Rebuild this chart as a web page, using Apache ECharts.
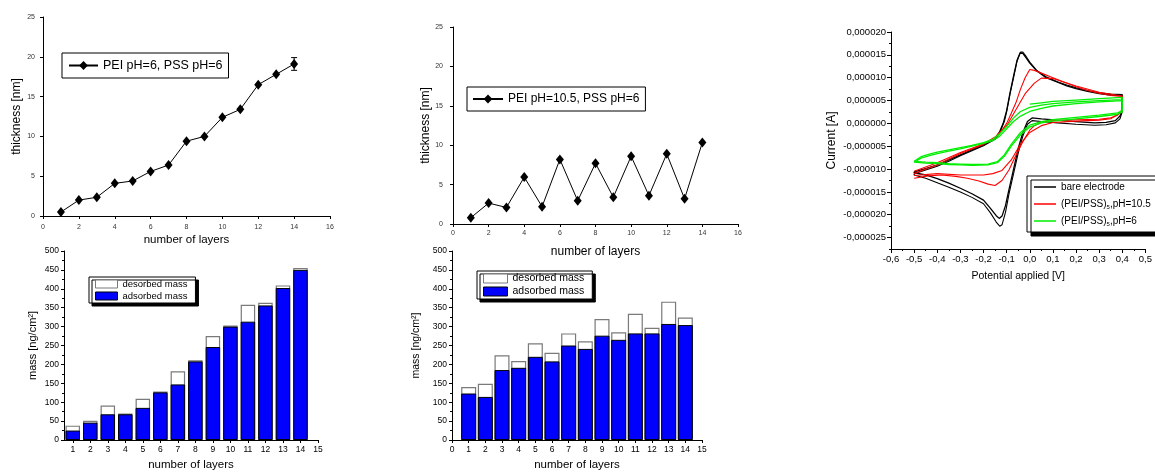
<!DOCTYPE html>
<html><head><meta charset="utf-8">
<script src="https://cdn.jsdelivr.net/npm/echarts@6/dist/echarts.min.js"></script>
<style>html,body{margin:0;padding:0;background:#fff}#c{width:1155px;height:472px}</style>
</head><body><div id="c"></div>
<script>
// ---- Panel 1 / 2: film thickness vs number of layers ----
const layers = [1,2,3,4,5,6,7,8,9,10,11,12,13,14];
const thicknessPH6 = [0.5,2.0,2.35,4.1,4.4,5.6,6.4,9.4,10.0,12.4,13.4,16.5,17.8,19.1];
const thicknessPH6Err = [0,0,0,0,0,0,0,0,0,0,0,0,0,0.8];
const thicknessPH105 = [0.8,2.65,2.1,5.95,2.2,8.2,2.95,7.7,3.4,8.6,3.6,8.9,3.2,10.35];
const thicknessTicksX = [0,16,2];
const thicknessTicksY = [0,25,5];

// ---- Panel 3: cyclic voltammograms, [potential V, current uA] ----
const bareCycle1 = [[-0.5,-10.6],[-0.45,-9.9],[-0.4,-9.1],[-0.35,-8.0],[-0.3,-6.9],[-0.25,-5.8],[-0.2,-4.7],[-0.15,-3.3],[-0.13,-1.8],[-0.115,0.0],[-0.1,2.8],[-0.085,6.8],[-0.07,10.4],[-0.055,13.8],[-0.042,15.4],[-0.03,15.3],[-0.015,14.3],[0.0,13.2],[0.03,11.5],[0.07,10.0],[0.12,9.0],[0.16,8.2],[0.2,7.6],[0.25,7.0],[0.3,6.5],[0.35,6.2],[0.4,6.1],
  [0.4,3.0],[0.39,1.6],[0.37,0.6],[0.33,0.2],[0.28,0.1],[0.2,0.4],[0.12,0.7],[0.05,1.0],[0.01,1.2],[-0.01,0.4],[-0.03,-2.0],[-0.05,-5.5],[-0.07,-10.0],[-0.09,-14.5],[-0.105,-18.0],[-0.12,-20.3],[-0.132,-20.8],[-0.145,-20.2],[-0.17,-18.6],[-0.2,-16.8],[-0.25,-15.4],[-0.3,-14.2],[-0.35,-13.1],[-0.4,-12.1],[-0.45,-11.3],[-0.5,-10.8],[-0.5,-10.6]];
const bareCycle2 = [[-0.5,-11.0],[-0.45,-10.2],[-0.4,-9.4],[-0.35,-8.3],[-0.3,-7.1],[-0.25,-6.0],[-0.2,-4.9],[-0.15,-3.5],[-0.13,-2.1],[-0.11,0.4],[-0.1,2.5],[-0.085,6.5],[-0.07,10.0],[-0.055,13.6],[-0.04,15.6],[-0.03,15.6],[-0.015,14.6],[0.0,13.4],[0.03,11.6],[0.07,10.2],[0.12,9.1],[0.16,8.4],[0.2,7.8],[0.25,7.2],[0.3,6.7],[0.35,6.4],[0.4,6.3],
  [0.4,2.6],[0.39,1.0],[0.37,0.1],[0.33,-0.3],[0.28,-0.4],[0.2,-0.2],[0.12,0.1],[0.05,0.4],[0.01,0.6],[-0.01,-0.2],[-0.03,-2.8],[-0.05,-6.5],[-0.07,-11.0],[-0.09,-15.5],[-0.105,-19.5],[-0.12,-22.2],[-0.13,-22.5],[-0.145,-21.6],[-0.17,-19.6],[-0.2,-17.6],[-0.25,-16.2],[-0.3,-15.0],[-0.35,-14.0],[-0.4,-13.0],[-0.45,-12.0],[-0.5,-11.3],[-0.5,-11.0]];
const ph105Cycle1 = [[-0.5,-11.0],[-0.45,-10.0],[-0.4,-9.1],[-0.35,-7.8],[-0.3,-6.6],[-0.25,-5.6],[-0.2,-4.6],[-0.15,-3.2],[-0.12,-1.5],[-0.1,0.0],[-0.08,2.2],[-0.06,4.5],[-0.04,7.5],[-0.02,10.0],[0.0,11.8],[0.02,11.6],[0.05,11.0],[0.1,10.0],[0.15,9.0],[0.2,8.0],[0.25,7.2],[0.3,6.6],[0.35,6.1],[0.4,5.9],
  [0.4,3.0],[0.38,1.8],[0.35,1.2],[0.3,0.9],[0.2,0.8],[0.1,0.6],[0.05,0.3],[0.02,-0.5],[0.0,-1.5],[-0.03,-4.0],[-0.06,-7.0],[-0.09,-10.2],[-0.12,-12.5],[-0.15,-13.6],[-0.18,-13.3],[-0.22,-12.6],[-0.27,-12.0],[-0.32,-11.6],[-0.38,-11.3],[-0.44,-11.5],[-0.5,-12.0]];
const ph105Cycle2 = [[-0.5,-10.5],[-0.4,-8.6],[-0.3,-6.4],[-0.2,-4.5],[-0.15,-3.0],[-0.1,-0.5],[-0.06,3.0],[-0.02,6.5],[0.02,8.8],[0.05,9.9],[0.1,9.8],[0.15,9.0],[0.2,8.2],[0.3,6.8],[0.4,6.0],
  [0.4,2.6],[0.35,1.0],[0.3,0.7],[0.2,0.5],[0.1,0.2],[0.05,-0.5],[0.0,-2.0],[-0.04,-4.5],[-0.08,-8.0],[-0.12,-10.3],[-0.16,-11.0],[-0.2,-11.3],[-0.3,-11.3],[-0.4,-11.0],[-0.5,-11.4]];
const ph6Cycle1 = [[0.0,4.2],[0.05,4.5],[0.1,4.8],[0.2,5.1],[0.3,5.4],[0.4,5.7],[0.4,2.8],[0.38,2.3],[0.3,1.8],[0.2,1.3],[0.1,0.8],[0.05,0.4],[0.0,-0.4],[-0.04,-2.0],[-0.08,-4.6],[-0.11,-6.9],[-0.14,-8.4],[-0.18,-8.9],[-0.25,-9.0],[-0.3,-8.9],[-0.35,-8.8],[-0.4,-8.6],[-0.45,-8.5],[-0.5,-8.3],
  [-0.5,-8.0],[-0.47,-7.3],[-0.43,-6.7],[-0.4,-6.3],[-0.35,-5.8],[-0.3,-5.3],[-0.25,-4.8],[-0.2,-4.2],[-0.16,-3.5],[-0.13,-2.3],[-0.1,-0.7],[-0.07,1.2],[-0.04,2.6],[0.0,3.5],[0.05,4.0],[0.1,4.3],[0.2,4.7],[0.3,5.0],[0.4,5.2]];
const ph6Cycle2 = [[0.4,5.2],[0.4,2.5],[0.38,2.0],[0.3,1.5],[0.2,1.0],[0.1,0.5],[0.05,0.1],[0.0,-0.8],[-0.04,-2.5],[-0.08,-5.0],[-0.11,-7.2],[-0.14,-8.6],[-0.18,-9.1],[-0.25,-9.2],[-0.3,-9.1],[-0.35,-9.0],[-0.4,-8.8],[-0.45,-8.7],[-0.5,-8.5],
  [-0.5,-8.2],[-0.47,-7.6],[-0.43,-7.0],[-0.4,-6.6],[-0.35,-6.1],[-0.3,-5.6],[-0.25,-5.0],[-0.2,-4.4],[-0.16,-3.8],[-0.13,-2.8],[-0.1,-1.2],[-0.07,0.4],[-0.04,1.6],[0.0,2.6],[0.05,3.3],[0.1,3.8],[0.2,4.3],[0.3,4.7],[0.4,5.0]];
const cvCurrentLabels_uA = [-25,-20,-15,-10,-5,0,5,10,15,20];
const cvCurrentMinor_uA = [-27.5,-22.5,-17.5,-12.5,-7.5,-2.5,2.5,7.5,12.5,17.5];

// ---- Panel 4 / 5: mass per layer (ng/cm2) ----
const massLayers = [1,2,3,4,5,6,7,8,9,10,11,12,13,14];
const adsorbedPH6 = [25,46,68,68,85,126,147,208,246,300,313,356,402,450];
const desorbedPH6 = [13,5,23,2,24,2,35,3,29,3,45,7,7,5];
const adsorbedPH105 = [123,114,185,191,220,208,250,241,276,265,282,282,307,304];
const desorbedPH105 = [17,35,39,18,36,23,32,20,44,20,52,15,59,20];
const massTickLabelsLeft = [1,2,3,4,5,6,7,8,9,10,11,12,13,14,15];

const FONT = '"Liberation Sans", Arial, sans-serif';
const pair = (xs, ys) => xs.map((x, i) => [x, ys[i]]);
// top of each bar = adsorbed + desorbed (white part drawn behind the blue part)
const topOf = (a, d) => a.map((v, i) => v + d[i]);
const axLine = {onZero: false, lineStyle: {color: '#000', width: 1}};
const tick = (len, extra) => Object.assign({length: len, lineStyle: {color: '#000', width: 1}}, extra || {});

const chart = echarts.init(document.getElementById('c'));

const option = {
  animation: false,
  backgroundColor: '#fff',
  textStyle: {fontFamily: FONT},
  grid: [
    {left: 43, top: 17, width: 287, height: 199},
    {left: 453, top: 27, width: 285, height: 197},
    {left: 891, top: 32, width: 257, height: 217},
    {left: 64, top: 251, width: 254, height: 191},
    {left: 452, top: 251, width: 250, height: 191}
  ],
  xAxis: [
    {gridIndex: 0, type: 'value', min: thicknessTicksX[0], max: thicknessTicksX[1], interval: thicknessTicksX[2],
     axisLine: axLine, axisTick: tick(3), splitLine: {show: false},
     axisLabel: {fontSize: 7, color: '#333', margin: 8, fontFamily: FONT},
     name: 'number of layers', nameLocation: 'middle', nameGap: 18,
     nameTextStyle: {fontSize: 11.5, color: '#000', fontFamily: FONT}},
    {gridIndex: 1, type: 'value', min: thicknessTicksX[0], max: thicknessTicksX[1], interval: thicknessTicksX[2],
     axisLine: axLine, axisTick: tick(3), splitLine: {show: false},
     axisLabel: {fontSize: 7, color: '#333', margin: 6, fontFamily: FONT},
     name: 'number of layers', nameLocation: 'middle', nameGap: 22,
     nameTextStyle: {fontSize: 12, color: '#000', fontFamily: FONT}},
    {gridIndex: 2, type: 'value', min: -0.6, max: 0.5, interval: 0.1,
     axisLine: axLine, axisTick: tick(4), splitLine: {show: false},
     minorTick: {show: true, splitNumber: 2, length: 2, lineStyle: {color: '#000'}},
     axisLabel: {fontSize: 9.5, color: '#000', margin: 5, fontFamily: FONT,
       formatter: v => v.toFixed(1).replace('.', ',')},
     name: 'Potential applied [V]', nameLocation: 'middle', nameGap: 22,
     nameTextStyle: {fontSize: 10.5, color: '#000', fontFamily: FONT}},
    {gridIndex: 3, type: 'value', min: 0.5, max: 15,
     axisLine: axLine, axisTick: tick(3, {customValues: massTickLabelsLeft}), splitLine: {show: false},
     axisLabel: {fontSize: 8.5, color: '#000', margin: 5, fontFamily: FONT, customValues: massTickLabelsLeft},
     name: 'number of layers', nameLocation: 'middle', nameGap: 19,
     nameTextStyle: {fontSize: 11.5, color: '#000', fontFamily: FONT}},
    {gridIndex: 4, type: 'value', min: 0, max: 15, interval: 1,
     axisLine: axLine, axisTick: tick(3), splitLine: {show: false},
     axisLabel: {fontSize: 8.5, color: '#000', margin: 5, fontFamily: FONT},
     name: 'number of layers', nameLocation: 'middle', nameGap: 19,
     nameTextStyle: {fontSize: 11.5, color: '#000', fontFamily: FONT}}
  ],
  yAxis: [
    {gridIndex: 0, type: 'value', min: thicknessTicksY[0], max: thicknessTicksY[1], interval: thicknessTicksY[2],
     axisLine: Object.assign({show: true}, axLine), axisTick: tick(3, {show: true}), splitLine: {show: false},
     axisLabel: {fontSize: 7, color: '#333', margin: 8, fontFamily: FONT},
     name: 'thickness [nm]', nameLocation: 'middle', nameGap: 20,
     nameTextStyle: {fontSize: 12, color: '#000', fontFamily: FONT}},
    {gridIndex: 1, type: 'value', min: thicknessTicksY[0], max: thicknessTicksY[1], interval: thicknessTicksY[2],
     axisLine: Object.assign({show: true}, axLine), axisTick: tick(3, {show: true}), splitLine: {show: false},
     axisLabel: {fontSize: 7, color: '#333', margin: 10, fontFamily: FONT},
     name: 'thickness [nm]', nameLocation: 'middle', nameGap: 21,
     nameTextStyle: {fontSize: 12, color: '#000', fontFamily: FONT}},
    {gridIndex: 2, type: 'value', min: -27.5, max: 20,
     axisLine: Object.assign({show: true}, axLine), axisTick: tick(4, {show: true, customValues: cvCurrentLabels_uA}), splitLine: {show: false},
     axisLabel: {fontSize: 9.5, color: '#000', margin: 5, fontFamily: FONT, customValues: cvCurrentLabels_uA,
       formatter: v => (v * 1e-6).toFixed(6).replace('.', ',')},
     name: 'Current [A]', nameLocation: 'middle', nameGap: 53,
     nameTextStyle: {fontSize: 12, color: '#000', fontFamily: FONT}},
    {gridIndex: 3, type: 'value', min: 0, max: 500, interval: 50,
     axisLine: Object.assign({show: true}, axLine), axisTick: tick(3, {show: true}), splitLine: {show: false},
     minorTick: {show: true, splitNumber: 2, length: 2, lineStyle: {color: '#000'}},
     axisLabel: {fontSize: 8.5, color: '#000', margin: 5, fontFamily: FONT},
     name: 'mass [ng/cm²]', nameLocation: 'middle', nameGap: 26,
     nameTextStyle: {fontSize: 11, color: '#000', fontFamily: FONT}},
    {gridIndex: 4, type: 'value', min: 0, max: 500, interval: 50,
     axisLine: Object.assign({show: true}, axLine), axisTick: tick(3, {show: true}), splitLine: {show: false},
     minorTick: {show: true, splitNumber: 2, length: 2, lineStyle: {color: '#000'}},
     axisLabel: {fontSize: 8.5, color: '#000', margin: 5, fontFamily: FONT},
     name: 'mass [ng/cm²]', nameLocation: 'middle', nameGap: 30,
     nameTextStyle: {fontSize: 10.5, color: '#000', fontFamily: FONT}},
    // minor ticks for the CV current axis
    {gridIndex: 2, type: 'value', min: -27.5, max: 20, position: 'left',
     axisLine: {show: false, onZero: false}, splitLine: {show: false}, axisLabel: {show: false},
     axisTick: tick(2, {show: true, customValues: cvCurrentMinor_uA})}
  ],
  legend: [
    {data: ['PEI pH=6, PSS pH=6'], left: 62, top: 53, orient: 'horizontal',
     padding: [6, 6, 6, 6], itemWidth: 29, itemHeight: 11, itemGap: 0,
     borderColor: '#000', borderWidth: 1, backgroundColor: '#fff', selectedMode: false,
     textStyle: {fontSize: 12.5, color: '#000', fontFamily: FONT}},
    {data: ['PEI pH=10.5, PSS pH=6'], left: 467, top: 87, orient: 'horizontal',
     padding: [6, 6, 6, 5], itemWidth: 30, itemHeight: 11, itemGap: 0,
     borderColor: '#000', borderWidth: 1, backgroundColor: '#fff', selectedMode: false,
     textStyle: {fontSize: 12, color: '#000', fontFamily: FONT}},
    {data: ['bare electrode', '(PEI/PSS)5,pH=10.5', '(PEI/PSS)5,pH=6'], left: 1027, top: 176, orient: 'vertical',
     padding: [5, 8, 5, 7], itemWidth: 22, itemHeight: 1.5, itemGap: 5, icon: 'rect',
     borderColor: '#000', borderWidth: 1, backgroundColor: '#fff', selectedMode: false,
     shadowColor: '#000', shadowBlur: 0, shadowOffsetX: 4, shadowOffsetY: 4,
     itemStyle: {borderWidth: 0},
     formatter: name => name.replace(')5,', '){sub|5},'),
     textStyle: {fontSize: 10, color: '#000', fontFamily: FONT, lineHeight: 12,
       rich: {sub: {fontSize: 6, verticalAlign: 'bottom', lineHeight: 12, fontFamily: FONT, color: '#000'}}}},
    {data: ['desorbed mass', 'adsorbed mass'], left: 89, top: 277, orient: 'vertical',
     padding: [2, 8, 2, 6], itemWidth: 22, itemHeight: 8, itemGap: 2, icon: 'rect',
     borderColor: '#000', borderWidth: 1, backgroundColor: '#fff', selectedMode: false,
     shadowColor: '#000', shadowBlur: 0, shadowOffsetX: 3, shadowOffsetY: 3,
     itemStyle: {borderWidth: 1},
     textStyle: {fontSize: 9.5, color: '#000', fontFamily: FONT}},
    {data: ['desorbed mass', 'adsorbed mass'], left: 477, top: 271, orient: 'vertical',
     padding: [2, 8, 2, 6], itemWidth: 24, itemHeight: 9, itemGap: 2, icon: 'rect',
     borderColor: '#000', borderWidth: 1, backgroundColor: '#fff', selectedMode: false,
     shadowColor: '#000', shadowBlur: 0, shadowOffsetX: 3, shadowOffsetY: 3,
     itemStyle: {borderWidth: 1},
     textStyle: {fontSize: 10.5, color: '#000', fontFamily: FONT}}
  ],
  series: [
    {name: 'PEI pH=6, PSS pH=6', type: 'line', xAxisIndex: 0, yAxisIndex: 0,
     data: pair(layers, thicknessPH6), symbol: 'diamond', symbolSize: [8, 10],
     lineStyle: {color: '#000', width: 1}, itemStyle: {color: '#000'}, z: 3},
    {name: 'error', type: 'custom', xAxisIndex: 0, yAxisIndex: 0,
     data: layers.map((x, i) => [x, thicknessPH6[i], thicknessPH6Err[i]]).filter(d => d[2] > 0),
     renderItem: (params, api) => {
       const x = api.value(0), y = api.value(1), e = api.value(2);
       const t = api.coord([x, y + e]), b = api.coord([x, y - e]);
       const w = 3, st = {stroke: '#000', lineWidth: 1};
       return {type: 'group', children: [
         {type: 'line', shape: {x1: t[0], y1: t[1], x2: b[0], y2: b[1]}, style: st},
         {type: 'line', shape: {x1: t[0] - w, y1: t[1], x2: t[0] + w, y2: t[1]}, style: st},
         {type: 'line', shape: {x1: b[0] - w, y1: b[1], x2: b[0] + w, y2: b[1]}, style: st}
       ]};
     }, z: 2},
    {name: 'PEI pH=10.5, PSS pH=6', type: 'line', xAxisIndex: 1, yAxisIndex: 1,
     data: pair(layers, thicknessPH105), symbol: 'diamond', symbolSize: [8, 10],
     lineStyle: {color: '#000', width: 1}, itemStyle: {color: '#000'}},
    {name: 'bare electrode', type: 'line', xAxisIndex: 2, yAxisIndex: 2, data: bareCycle1,
     symbol: 'none', lineStyle: {color: '#000', width: 1.3}, itemStyle: {color: '#000'}},
    {name: 'bare electrode', type: 'line', xAxisIndex: 2, yAxisIndex: 2, data: bareCycle2,
     symbol: 'none', lineStyle: {color: '#000', width: 1.1}, itemStyle: {color: '#000'}},
    {name: '(PEI/PSS)5,pH=10.5', type: 'line', xAxisIndex: 2, yAxisIndex: 2, data: ph105Cycle1,
     symbol: 'none', lineStyle: {color: '#ff0000', width: 1.1}, itemStyle: {color: '#ff0000'}},
    {name: '(PEI/PSS)5,pH=10.5', type: 'line', xAxisIndex: 2, yAxisIndex: 2, data: ph105Cycle2,
     symbol: 'none', lineStyle: {color: '#ff0000', width: 1.1}, itemStyle: {color: '#ff0000'}},
    {name: '(PEI/PSS)5,pH=6', type: 'line', xAxisIndex: 2, yAxisIndex: 2, data: ph6Cycle1,
     symbol: 'none', lineStyle: {color: '#00ee00', width: 1.3}, itemStyle: {color: '#00ee00'}},
    {name: '(PEI/PSS)5,pH=6', type: 'line', xAxisIndex: 2, yAxisIndex: 2, data: ph6Cycle2,
     symbol: 'none', lineStyle: {color: '#00ee00', width: 1.3}, itemStyle: {color: '#00ee00'}},
    {name: 'desorbed mass', type: 'bar', xAxisIndex: 3, yAxisIndex: 3, barWidth: 14.5, barGap: '-100%',
     data: pair(massLayers, topOf(adsorbedPH6, desorbedPH6)),
     itemStyle: {color: '#ffffff', borderColor: '#7a7a7a', borderWidth: 1.2}},
    {name: 'adsorbed mass', type: 'bar', xAxisIndex: 3, yAxisIndex: 3, barWidth: 14.5, barGap: '-100%',
     data: pair(massLayers, adsorbedPH6),
     itemStyle: {color: '#0000ff', borderColor: '#000', borderWidth: 1}},
    {name: 'desorbed mass', type: 'bar', xAxisIndex: 4, yAxisIndex: 4, barWidth: 15, barGap: '-100%',
     data: pair(massLayers, topOf(adsorbedPH105, desorbedPH105)),
     itemStyle: {color: '#ffffff', borderColor: '#7a7a7a', borderWidth: 1.2}},
    {name: 'adsorbed mass', type: 'bar', xAxisIndex: 4, yAxisIndex: 4, barWidth: 15, barGap: '-100%',
     data: pair(massLayers, adsorbedPH105),
     itemStyle: {color: '#0000ff', borderColor: '#000', borderWidth: 1}}
  ]
};
chart.setOption(option);
</script>
</body></html>
